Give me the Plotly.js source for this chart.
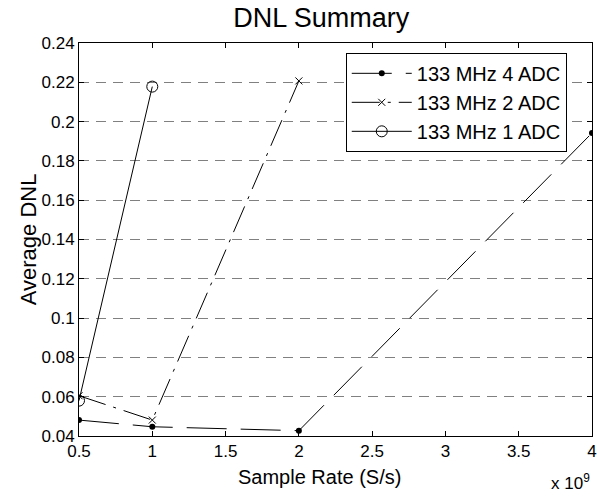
<!DOCTYPE html>
<html>
<head>
<meta charset="utf-8">
<script src="https://cdn.plot.ly/plotly-3.0.1.min.js"></script>
<style>html,body{margin:0;padding:0;background:#fff;}</style>
</head>
<body>
<div id="chart" style="width:597px;height:496px;"></div>
<script>
// Sample rate in units of 1e9 S/s
const rate4 = [0.5, 1, 2, 4];
const dnl4 = [0.0481, 0.0447, 0.0427, 0.1942];
const rate2 = [0.5, 1, 2];
const dnl2 = [0.0605, 0.0481, 0.2207];
const rate1 = [0.5, 1];
const dnl1 = [0.058, 0.2178];
const seriesNames = ['133 MHz 4 ADC', '133 MHz 2 ADC', '133 MHz 1 ADC'];
const xTicks = [0.5, 1, 1.5, 2, 2.5, 3, 3.5, 4];
const yTicks = [0.04, 0.06, 0.08, 0.1, 0.12, 0.14, 0.16, 0.18, 0.2, 0.22, 0.24];

const font = 'Liberation Sans, Arial, sans-serif';
const traces = [
  {x: rate4, y: dnl4, name: seriesNames[0], mode: 'lines+markers',
   line: {color: '#000', width: 1, dash: '40px,14px'},
   marker: {symbol: 'circle', size: 6, color: '#000'}},
  {x: rate2, y: dnl2, name: seriesNames[1], mode: 'lines+markers',
   line: {color: '#000', width: 1, dash: '28px,8px,3px,8px'},
   marker: {symbol: 'x-thin-open', size: 7, color: '#000', line: {color: '#000', width: 1}}},
  {x: rate1, y: dnl1, name: seriesNames[2], mode: 'lines+markers',
   line: {color: '#000', width: 1},
   marker: {symbol: 'circle-open', size: 11, color: '#000', line: {color: '#000', width: 1}}}
];

const layout = {
  width: 597, height: 496,
  margin: {l: 79, r: 5, t: 43, b: 60},
  paper_bgcolor: '#fff', plot_bgcolor: '#fff',
  font: {family: font, color: '#000', size: 17},
  title: {text: 'DNL Summary', font: {family: font, size: 27, color: '#000'},
          x: 0.538, xanchor: 'center', y: 0.964, yanchor: 'middle'},
  xaxis: {range: [0.5, 4], tickvals: xTicks, ticktext: xTicks.map(String),
          showgrid: false, zeroline: false, showline: true, linecolor: '#000', linewidth: 1,
          mirror: 'ticks', ticks: 'inside', ticklen: 5, tickcolor: '#000',
          tickfont: {family: font, size: 17}},
  yaxis: {range: [0.04, 0.24], tickvals: yTicks, ticktext: yTicks.map(String),
          showgrid: true, gridcolor: '#808080', griddash: '10px,7px', gridwidth: 1,
          zeroline: false, showline: true, linecolor: '#000', linewidth: 1,
          mirror: 'ticks', ticks: 'inside', ticklen: 5, tickcolor: '#000',
          tickfont: {family: font, size: 17}},
  legend: {x: 0.52, y: 0.975, xanchor: 'left', yanchor: 'top',
           bordercolor: '#000', borderwidth: 1, bgcolor: '#fff',
           font: {family: font, size: 20}, itemwidth: 60, tracegroupgap: 0},
  annotations: [
    {text: 'x 10<sup>9</sup>', xref: 'paper', yref: 'paper', x: 1.0, y: -0.083,
     xanchor: 'right', yanchor: 'top', showarrow: false, font: {family: font, size: 17}},
    {text: 'Sample Rate (S/s)', xref: 'paper', yref: 'paper', x: 0.468, y: -0.104,
     xanchor: 'center', yanchor: 'middle', showarrow: false, font: {family: font, size: 20}},
    {text: 'Average DNL', xref: 'paper', yref: 'paper', x: -0.098, y: 0.5, textangle: -90,
     xanchor: 'center', yanchor: 'middle', showarrow: false, font: {family: font, size: 22}}
  ],
  showlegend: true
};

Plotly.newPlot('chart', traces, layout, {displayModeBar: false, staticPlot: true});
</script>
</body>
</html>
